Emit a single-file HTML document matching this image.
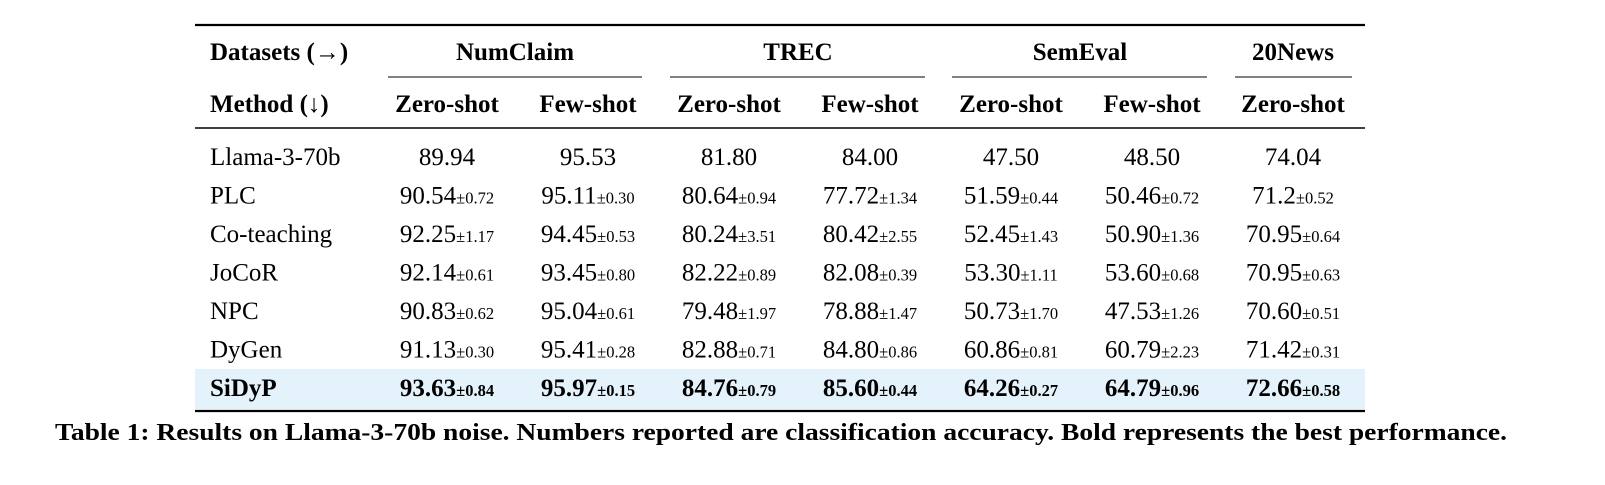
<!DOCTYPE html>
<html><head><meta charset="utf-8"><style>
html,body{margin:0;padding:0;background:#fff;}
svg{display:block;font-family:"Liberation Serif",serif;}
</style></head><body>
<svg width="1605" height="485" viewBox="0 0 1605 485">
<rect x="195" y="369" width="1170" height="40" fill="#e4f2fb"/>
<line x1="195" y1="25" x2="1365" y2="25" stroke="#000" stroke-width="2.2"/>
<line x1="195" y1="128" x2="1365" y2="128" stroke="#000" stroke-width="1.4"/>
<line x1="195" y1="411" x2="1365" y2="411" stroke="#000" stroke-width="2.2"/>
<g stroke="#000" stroke-width="1">
<line x1="388" y1="77" x2="642" y2="77"/><line x1="670" y1="77" x2="925" y2="77"/>
<line x1="952" y1="77" x2="1207" y2="77"/><line x1="1235" y1="77" x2="1352" y2="77"/>
</g>
<g font-weight="bold" font-size="25" fill="#000">
<text x="210" y="60">Datasets (→)</text>
<text x="210" y="112">Method (↓)</text>
<g text-anchor="middle">
<text x="515" y="60">NumClaim</text><text x="798" y="60">TREC</text>
<text x="1080" y="60">SemEval</text><text x="1293" y="60">20News</text>
<text x="447" y="112">Zero-shot</text><text x="588" y="112">Few-shot</text>
<text x="729" y="112">Zero-shot</text><text x="870" y="112">Few-shot</text>
<text x="1011" y="112">Zero-shot</text><text x="1152" y="112">Few-shot</text>
<text x="1293" y="112">Zero-shot</text>
</g></g>
<g id="body" font-size="25" fill="#000"></g>
<text x="55" y="440" textLength="1452" lengthAdjust="spacingAndGlyphs" font-weight="bold" font-size="24">Table 1: Results on Llama-3-70b noise. Numbers reported are classification accuracy. Bold represents the best performance.</text>
</svg>
<script>
const methods=["Llama-3-70b","PLC","Co-teaching","JoCoR","NPC","DyGen","SiDyP"];
const means=[
["89.94","95.53","81.80","84.00","47.50","48.50","74.04"],
["90.54","95.11","80.64","77.72","51.59","50.46","71.2"],
["92.25","94.45","80.24","80.42","52.45","50.90","70.95"],
["92.14","93.45","82.22","82.08","53.30","53.60","70.95"],
["90.83","95.04","79.48","78.88","50.73","47.53","70.60"],
["91.13","95.41","82.88","84.80","60.86","60.79","71.42"],
["93.63","95.97","84.76","85.60","64.26","64.79","72.66"]];
const stds=[
["","","","","","",""],
["0.72","0.30","0.94","1.34","0.44","0.72","0.52"],
["1.17","0.53","3.51","2.55","1.43","1.36","0.64"],
["0.61","0.80","0.89","0.39","1.11","0.68","0.63"],
["0.62","0.61","1.97","1.47","1.70","1.26","0.51"],
["0.30","0.28","0.71","0.86","0.81","2.23","0.31"],
["0.84","0.15","0.79","0.44","0.27","0.96","0.58"]];
const NS="http://www.w3.org/2000/svg";
const g=document.getElementById('body');
const colX=[447,588,729,870,1011,1152,1293];
methods.forEach((m,i)=>{
  const y=165+i*38.5;
  const bold=i===methods.length-1;
  const t=document.createElementNS(NS,'text');
  
  
  t.setAttribute('x',210);t.setAttribute('y',y);
  if(bold)t.setAttribute('font-weight','bold');
  t.textContent=m;g.appendChild(t);
  means[i].forEach((v,j)=>{
    const c=document.createElementNS(NS,'text');
    
    
    c.setAttribute('x',colX[j]);c.setAttribute('y',y);
    c.setAttribute('text-anchor','middle');
    if(bold)c.setAttribute('font-weight','bold');
    const a=document.createElementNS(NS,'tspan');a.textContent=v;c.appendChild(a);
    if(stds[i][j]){const b=document.createElementNS(NS,'tspan');b.setAttribute('font-size','16.5');b.textContent='±'+stds[i][j];c.appendChild(b);}
    g.appendChild(c);
  });
});
</script>
</body></html>
